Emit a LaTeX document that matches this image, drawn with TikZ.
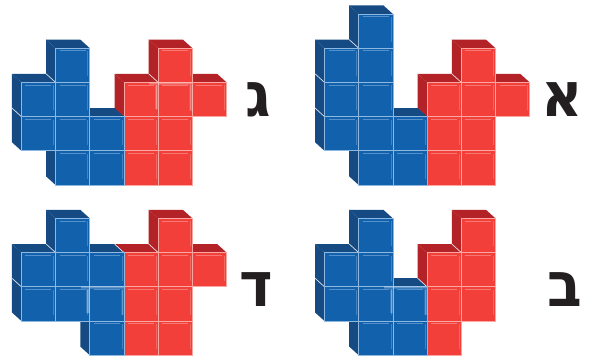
\documentclass[tikz,border=0pt]{standalone}
\usepackage{fontspec}
\newfontfamily\hebfont[Script=Hebrew]{DejaVu Sans Bold}
\TeXXeTstate=1
\definecolor{bluefront}{HTML}{1261AD}
\definecolor{blueside}{HTML}{164A82}
\definecolor{blueedge}{HTML}{8DB8E2}
\definecolor{redfront}{HTML}{F23F3A}
\definecolor{redside}{HTML}{B22226}
\definecolor{rededge}{HTML}{F9A7A0}
\definecolor{inkblack}{HTML}{231F20}
\tikzset{
  letterlabel/.style={font=\hebfont\fontsize{62}{62}\selectfont,text=inkblack,inner sep=0pt,anchor=center,xscale=.92,transform shape},
  diagline/.style={draw=white,opacity=.85,line width=.7pt},
  glow/.style={draw=white,opacity=.17,line width=3.4pt},
  glowcore/.style={draw=white,opacity=.2,line width=1.4pt}
}
\newcommand{\cellw}{34.2}
\newcommand{\sideX}{9.5}
\newcommand{\sideY}{8.6}
% back faces of one cell: #1 colour, #2 column, #3 row
\newcommand{\backfaces}[3]{%
  \pgfmathsetmacro{\xa}{\ox+#2*\cellw}\pgfmathsetmacro{\ya}{\oy+#3*\cellw}%
  \fill[#1] (\xa,\ya) -- ++(-\sideX,-\sideY) -- ++(\cellw,0) -- ++(\sideX,\sideY) -- cycle;
  \fill[#1] (\xa,\ya) -- ++(-\sideX,-\sideY) -- ++(0,\cellw) -- ++(\sideX,\sideY) -- cycle;
}
% front face: #1 fill, #2 edge, #3 column, #4 row
\newcommand{\frontface}[4]{%
  \pgfmathsetmacro{\xa}{\ox+#3*\cellw}\pgfmathsetmacro{\ya}{\oy+#4*\cellw}%
  \fill[#1] (\xa,\ya) rectangle ++(\cellw,\cellw);
  \draw[#2,opacity=.55,line width=1pt] (\xa+4,\ya+2.6) -- ++(26,0);
  \draw[#2,opacity=.4,line width=.9pt] (\xa+\cellw-1.9,\ya+3) -- ++(0,25);
}
\newcommand{\frontedge}[3]{%
  \pgfmathsetmacro{\xa}{\ox+#2*\cellw}\pgfmathsetmacro{\ya}{\oy+#3*\cellw}%
  \draw[#1,line width=.75pt] (\xa,\ya) rectangle ++(\cellw,\cellw);
}
% #1 #2 origin, #3 blue cells, #4 red cells, #5 diagonals
\newcommand{\panel}[5]{%
  \def\ox{#1}\def\oy{#2}%
  \foreach \c/\r in {#4} {\backfaces{redside}{\c}{\r}}
  \foreach \c/\r in {#3} {\backfaces{blueside}{\c}{\r}}
  \foreach \c/\r in {#5} {
    \pgfmathsetmacro{\xa}{\ox+\c*\cellw}\pgfmathsetmacro{\ya}{\oy+\r*\cellw}
    \draw[diagline] (\xa,\ya) -- ++(-\sideX,-\sideY);
  }
  \foreach \c/\r in {#4} {\frontface{redfront}{rededge}{\c}{\r}}
  \foreach \c/\r in {#3} {\frontface{bluefront}{blueedge}{\c}{\r}}
  \foreach \c/\r in {#4} {\frontedge{rededge}{\c}{\r}}
  \foreach \c/\r in {#3} {\frontedge{blueedge}{\c}{\r}}
}
% crossing highlight at the top-left of a cell
\newcommand{\glowcross}[2]{%
  \foreach \g in {glow,glowcore} {
    \draw[\g] (#1-9,#2+.6) -- ++(43,0);
    \draw[\g] (#1-1.6,#2+2) -- ++(0,24);
    \draw[\g,opacity=.1] (#1+33,#2+2) -- ++(0,26);
  }
}
\begin{document}
\begin{tikzpicture}[x=1pt,y=-1pt]
\useasboundingbox (0,0) rectangle (590,360);
\fill[white] (0,0) rectangle (590,360);
% gimel panel
\panel{21.4}{48.2}{1/0,0/1,1/1,0/2,1/2,2/2,1/3,2/3}{4/0,3/1,4/1,5/1,3/2,4/2,3/3,4/3}{1/1,0/2,4/1}
\glowcross{158}{83}
% alef panel
\panel{324.5}{14}{1/0,0/1,1/1,0/2,1/2,0/3,1/3,2/3,1/4,2/4}{4/1,3/2,4/2,5/2,3/3,4/3,3/4,4/4}{1/1,0/2,0/3,4/2}
% dalet panel
\panel{21.4}{218.4}{1/0,0/1,1/1,2/1,0/2,1/2,2/2,2/3}{4/0,3/1,4/1,5/1,3/2,4/2,3/3,4/3}{1/1,0/2,3/1,4/1}
\glowcross{89.6}{287}
% bet panel
\panel{324.5}{218.4}{1/0,0/1,1/1,0/2,1/2,2/2,1/3,2/3}{4/0,3/1,4/1,3/2,4/2,3/3}{1/1,0/2,4/1,3/2}
\glowcross{392.8}{287}
% letters
\node[letterlabel] (gimel) at (258,100) {\beginR ג\endR};
\node[letterlabel] (alef) at (562,100) {\beginR א\endR};
\node[letterlabel] (dalet) at (256,290) {\beginR ד\endR};
\node[letterlabel] (bet) at (565,290) {\beginR ב\endR};
\end{tikzpicture}
\end{document}
